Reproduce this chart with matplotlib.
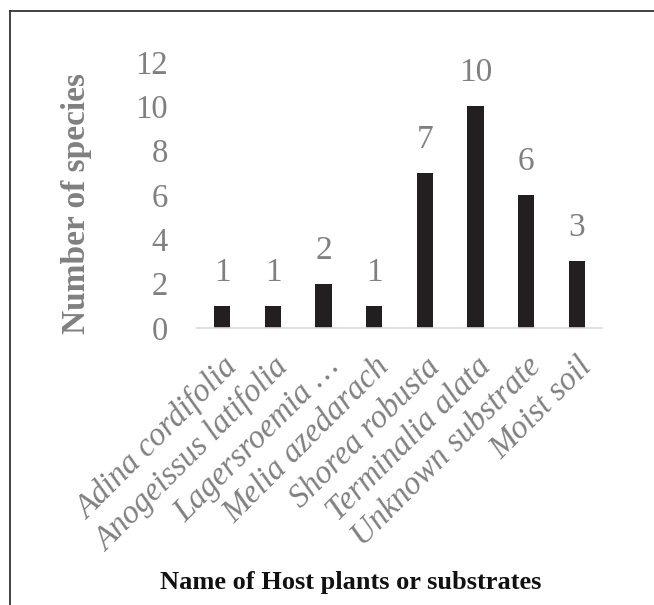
import matplotlib
matplotlib.use("Agg")
import matplotlib.pyplot as plt
from matplotlib.lines import Line2D

categories = ["Adina cordifolia", "Anogeissus latifolia", "Lagersroemia \u2026",
              "Melia azedarach", "Shorea robusta", "Terminalia alata",
              "Unknown substrate", "Moist soil"]
values = [1, 1, 2, 1, 7, 10, 6, 3]
yticks = [0, 2, 4, 6, 8, 10, 12]

W, H = 654, 605
fig = plt.figure(figsize=(W / 100, H / 100), dpi=100)
serif = ["Liberation Serif", "DejaVu Serif"]
gray = "#808080"

ax = fig.add_axes([197 / W, 1 - 328 / H, (602 - 197) / W, (328 - 62) / H])
x = list(range(len(categories)))
ax.bar(x, values, width=0.32, color="#231f20")
ax.set_xlim(-0.5, len(categories) - 0.5)
ax.set_ylim(0, 12)
ax.set_yticks(yticks)
ax.set_yticklabels([str(t) for t in yticks], family=serif, fontsize=23.5, color=gray)
ax.set_xticks(x)
ax.set_xticklabels(categories, family=serif, style="italic", fontsize=23.5, color=gray,
                   rotation=45, ha="right", va="top", rotation_mode="anchor")
ax.tick_params(axis="both", length=0)
ax.tick_params(axis="y", pad=21)
ax.tick_params(axis="x", pad=17)
for s in ["top", "right", "left"]:
    ax.spines[s].set_visible(False)
ax.spines["bottom"].set_color("#d9d9d9")
ax.spines["bottom"].set_linewidth(1.2)

for xi, v in zip(x, values):
    ax.annotate(str(v), (xi, v), xytext=(0, 13), textcoords="offset points",
                ha="center", va="bottom", family=serif, fontsize=24, color=gray)

fig.text(76 / W, 1 - 204 / H, "Number of species", rotation=90, ha="center", va="center",
         family=serif, fontweight="bold", fontsize=24, color=gray)
fig.text(351 / W, 1 - 583 / H, "Name of Host plants or substrates", ha="center", va="center",
         family=serif, fontweight="bold", fontsize=19, color="#111111")

# outer frame (left and top edges visible)
fig.add_artist(Line2D([10 / W, 10 / W], [0, 1 - 11 / H], transform=fig.transFigure,
                      color="#333333", linewidth=1.3))
fig.add_artist(Line2D([10 / W, 1], [1 - 11 / H, 1 - 11 / H], transform=fig.transFigure,
                      color="#333333", linewidth=1.3))

fig.savefig("out.png", dpi=100)
